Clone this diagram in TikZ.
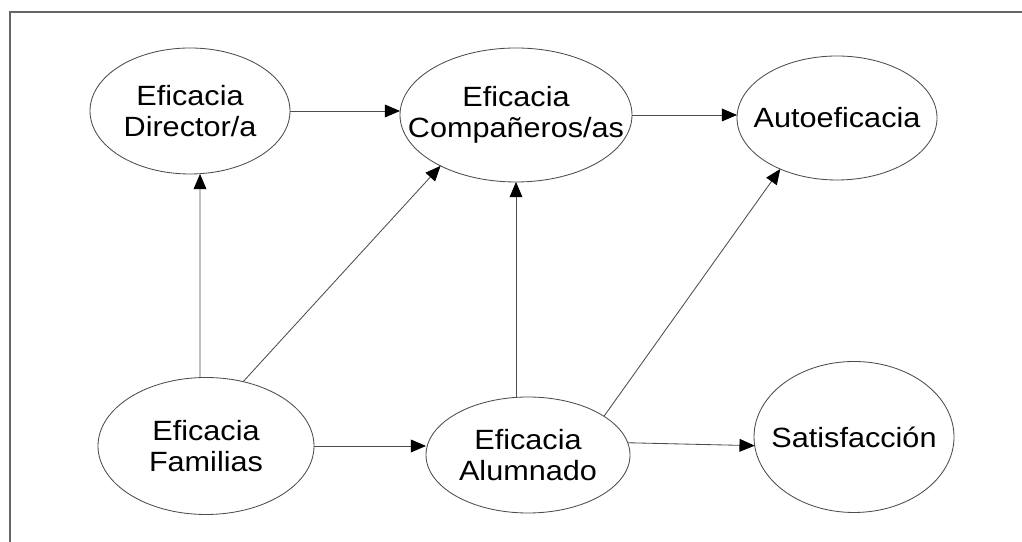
\documentclass[tikz,border=0pt]{standalone}
\usepackage{fontspec}
\setmainfont{Liberation Sans}[FakeStretch=1.1]
\usetikzlibrary{shapes.geometric,arrows.meta}

\begin{document}
\begin{tikzpicture}[
  elipse/.style={ellipse, draw=black!70, line width=0.6pt, fill=white,
    inner xsep=-4cm, inner ysep=-2cm, outer sep=0pt, align=center,
    font=\fontsize{19.8}{22}\selectfont},
  flecha/.style={draw=black!70, line width=0.6pt,
    -{Triangle[length=0.38cm,width=0.32cm,color=black]}}
]

\useasboundingbox (0,0) rectangle (25.55,13.55);

% Cadre
\draw[black!60, line width=1.4pt] (0.25,0) -- (0.25,13.25) -- (25.55,13.25);

% Ellipses
\node[elipse, minimum width=5cm, minimum height=3.15cm] (dir) at (4.75,10.775) {Eficacia\\Director/a};
\node[elipse, minimum width=5.8cm, minimum height=3.35cm] (comp) at (12.9,10.675) {Eficacia\\Compañeros/as};
\node[elipse, minimum width=5cm, minimum height=3.1cm] (auto) at (20.925,10.6) {Autoeficacia};
\node[elipse, minimum width=5.4cm, minimum height=3.425cm] (fam) at (5.15,2.4) {Eficacia\\Familias};
\node[elipse, minimum width=5.1cm, minimum height=2.9cm] (alum) at (13.2,2.175) {Eficacia\\Alumnado};
\node[elipse, minimum width=5cm, minimum height=3.775cm] (sat) at (21.35,2.625) {Satisfacción};

% Flèches
\draw[flecha] (dir) -- (dir -| comp.west);
\draw[flecha] (comp) -- (comp -| auto.west);
\draw[flecha] ([xshift=-0.15cm]fam.north) -- ([xshift=0.25cm]dir.south);
\draw[flecha] (fam.60) -- (comp.214);
\draw[flecha] (alum.north -| comp.south) -- (comp.south);
\draw[flecha] (alum.27) -- (auto.222);
\draw[flecha] (fam) -- (fam -| alum.west);
\draw[flecha] (alum.7) -- (sat.185);

\end{tikzpicture}
\end{document}
